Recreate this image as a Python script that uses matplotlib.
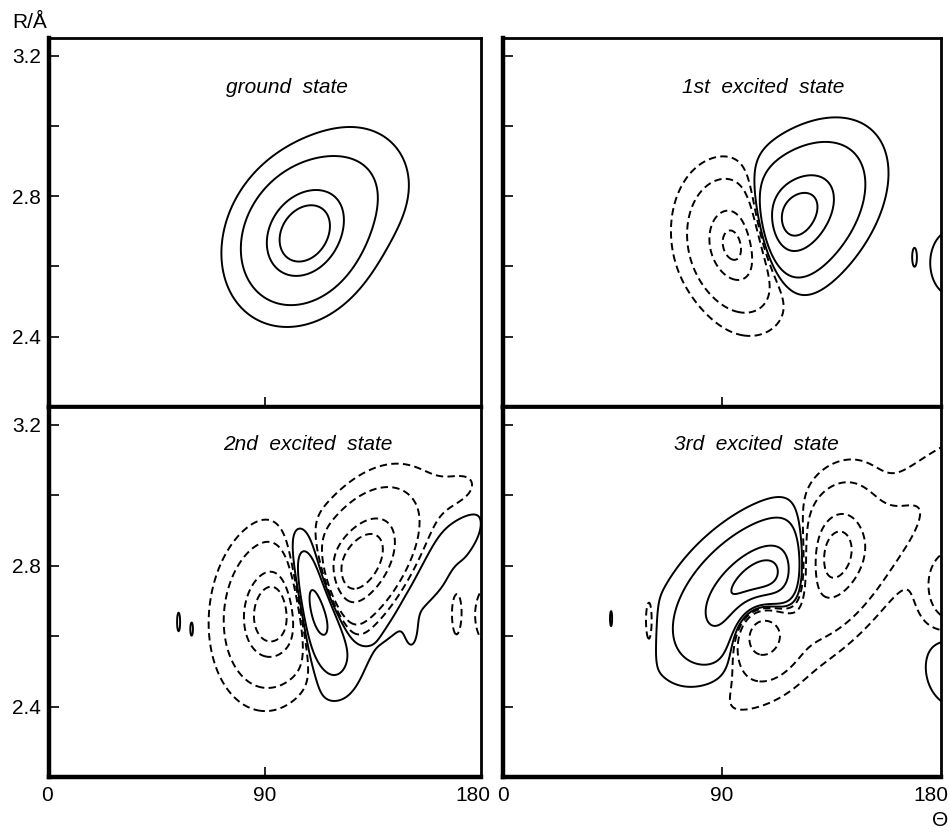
import numpy as np
import matplotlib
matplotlib.use("Agg")
import matplotlib.pyplot as plt

plt.rcParams['font.family'] = ['Liberation Sans', 'DejaVu Sans']

# axes ticks / labels
THETA_TICKS = [0, 90, 180]
THETA_LABELS = ['0', '90', '180']
R_TICKS = [2.4, 2.6, 2.8, 3.0, 3.2]
R_LABELS = ['2.4', '', '2.8', '', '3.2']

# contour levels of the wavefunction amplitude (negative = dashed)
LEVELS = [-0.75, -0.5, -0.13, -0.03, 0.03, 0.13, 0.5, 0.75]

TITLES = ['ground  state', '1st  excited  state', '2nd  excited  state', '3rd  excited  state']
TITLE_THETA = [99, 107, 108, 104]
TITLE_R = [3.11, 3.11, 3.145, 3.145]

# lobes: theta0, R0, sigma_theta, sigma_R, rho, amplitude
GROUND_LOBES = [
    (106, 2.69, 12.9, 0.099, 0.2, 1.0),
    (126, 2.82, 14, 0.10, 0.1, 0.12),
]
FIRST_LOBES = [
    (97, 2.655, 10.5, 0.098, -0.15, -1.1),
    (119, 2.735, 15, 0.11, 0.45, 0.95),
    (169, 2.627, 1.2, 0.035, 0.0, 0.03),
    (185, 2.61, 8, 0.08, 0.0, 0.06),
]
SECOND_LOBES = [
    (93, 2.665, 10, 0.105, 0.1, -1.0),
    (111, 2.69, 7, 0.097, -0.45, 1.05),
    (130, 2.81, 12, 0.105, 0.45, -1.0),
    (160, 2.80, 24, 0.195, 0.95, 0.1),
    (178, 2.99, 14, 0.06, 0.0, -0.06),
    (54, 2.64, 1.2, 0.05, 0.0, 0.035),
    (59.5, 2.62, 1.5, 0.05, 0.0, 0.036),
    (151, 2.62, 2, 0.04, 0.0, 0.05),
    (169.5, 2.67, 2.5, 0.09, 0.0, -0.035),
    (183, 2.66, 6, 0.09, 0.0, -0.045),
]
THIRD_LOBES = [
    (103, 2.73, 16, 0.105, 0.5, 1.12),
    (105, 2.63, 8, 0.07, 0.0, -1.1),
    (135, 2.84, 10, 0.10, 0.3, -0.95),
    (145, 2.78, 28, 0.20, 0.9, -0.2),
    (187, 2.74, 8, 0.07, 0.0, -0.4),
    (187, 2.515, 8, 0.07, 0.0, 0.12),
    (44.4, 2.65, 0.8, 0.04, 0.0, 0.034),
    (60.2, 2.63, 1.8, 0.07, 0.0, -0.07),
]
STATES = [GROUND_LOBES, FIRST_LOBES, SECOND_LOBES, THIRD_LOBES]


def wavefunction(T, R, lobes):
    Z = np.zeros_like(T)
    for t0, r0, st, sr, rho, amp in lobes:
        dt = (T - t0) / st
        dr = (R - r0) / sr
        q = (dt ** 2 - 2 * rho * dt * dr + dr ** 2) / (1 - rho ** 2)
        Z += amp * np.exp(-q / 2)
    return Z


theta = np.arange(-10, 200, 0.25)
rr = np.arange(2.1, 3.4, 0.002)
T, R = np.meshgrid(theta, rr)

fig = plt.figure(figsize=(9.5, 8.32), dpi=100)
rects = [
    [0.0516, 0.5108, 0.4547, 0.4435],
    [0.5295, 0.5108, 0.4610, 0.4435],
    [0.0516, 0.0661, 0.4547, 0.4447],
    [0.5295, 0.0661, 0.4610, 0.4447],
]
styles = [(0, (3.8, 2.2)) if l < 0 else 'solid' for l in LEVELS]

for i, lobes in enumerate(STATES):
    ax = fig.add_axes(rects[i])
    Z = wavefunction(T, R, lobes)
    ax.contour(T, R, Z, levels=LEVELS, colors='black', linewidths=1.4, linestyles=styles)
    ax.set_xlim(0, 180)
    ax.set_ylim(2.2, 3.25)
    ax.set_yticks(R_TICKS)
    ax.set_xticks([90])
    ax.set_xticklabels([])
    ax.tick_params(direction='in', length=7.5, width=1.2, labelsize=15, pad=6)
    if i % 2 == 0:
        ax.set_yticklabels(R_LABELS)
    else:
        ax.set_yticklabels([])
    if i >= 2:
        label_shift = [-2, 0, -8] if i == 2 else [0, 0, -10]
        for t, lab, dx in zip(THETA_TICKS, THETA_LABELS, label_shift):
            ax.annotate(lab, xy=(t, 0), xycoords=('data', 'axes fraction'),
                        xytext=(dx, -9), textcoords='offset pixels',
                        ha='center', va='top', fontsize=15)
    for side in ['left', 'bottom']:
        ax.spines[side].set_linewidth(3.2)
    for side in ['top', 'right']:
        ax.spines[side].set_linewidth(2.0)
    ax.text(TITLE_THETA[i], TITLE_R[i], TITLES[i], style='italic', fontsize=15,
            ha='center', va='center')

fig.text(12 / 950, 1 - 22 / 832, 'R/Å', fontsize=15, ha='left', va='center')
fig.text(940 / 950, 1 - 820 / 832, 'Θ', fontsize=15, ha='center', va='center')

fig.savefig('out.png', dpi=100)
